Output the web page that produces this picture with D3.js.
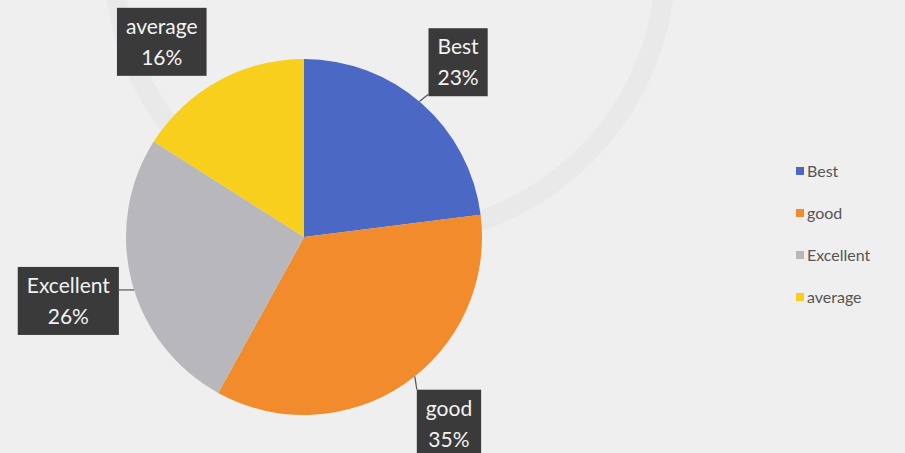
<!DOCTYPE html>
<html><head><meta charset="utf-8">
<script src="https://cdn.jsdelivr.net/npm/d3@7"></script>
<style>
html,body{margin:0;padding:0;background:#efefef;}
svg{display:block;}
</style></head>
<body>
<svg id="chart" width="905" height="453"></svg>
<script>
const categories = ["Best", "good", "Excellent", "average"];
const values = [23, 35, 26, 16];
const colors = ["#4b68c4", "#f28b2b", "#b8b8bc", "#f7cf1c"];

const W = 905, H = 453;
const cx = 304, cy = 237, R = 178;
const svg = d3.select("#chart");

svg.append("rect").attr("width", W).attr("height", H).attr("fill", "#efefef");

// faint watermark ring
svg.append("circle").attr("cx", 390).attr("cy", -40).attr("r", 276)
  .attr("fill", "none").attr("stroke", "#e9e9e9").attr("stroke-width", 20);

const pie = d3.pie().sort(null).value(d => d)(values);
const arc = d3.arc().innerRadius(0).outerRadius(R);
const g = svg.append("g").attr("transform", `translate(${cx},${cy})`);

g.selectAll("path.slice").data(pie).join("path")
  .attr("class", "slice")
  .attr("d", arc)
  .attr("fill", (d, i) => colors[i]);

// labels
const labelArc = d3.arc().innerRadius(233).outerRadius(233);
const nudges = [[0, 0], [14, -6], [-10, 6], [-30, 9]];
const lg = g.append("g").attr("font-family", "Lato, sans-serif").attr("font-size", 21);

pie.forEach((d, i) => {
  const [lx0, ly0] = labelArc.centroid(d);
  const lx = lx0 + nudges[i][0], ly = ly0 + nudges[i][1];
  const grp = lg.append("g").attr("transform", `translate(${lx},${ly})`);
  const t1 = grp.append("text").attr("text-anchor", "middle").attr("y", -8).attr("fill", "#f2f2f2").text(categories[i]);
  const t2 = grp.append("text").attr("text-anchor", "middle").attr("y", 23).attr("fill", "#f2f2f2").text(Math.round(d.value / d3.sum(values) * 100) + "%");
  const w = Math.max(t1.node().getComputedTextLength(), t2.node().getComputedTextLength()) + 18;
  const h = 68;
  grp.insert("rect", "text").attr("x", -w / 2).attr("y", -h / 2).attr("width", w).attr("height", h)
    .attr("fill", "#3a3a3a");
  d.box = {x0: lx - w / 2, x1: lx + w / 2, y0: ly - h / 2, y1: ly + h / 2};
});

// leader lines
const leaders = g.append("g").attr("stroke", "#555").attr("stroke-width", 1.2);
{
  const b = pie[0].box;
  const a = Math.atan2(b.y1 - 2, b.x0 - 3);
  leaders.append("line").attr("x1", b.x0).attr("y1", b.y1 - 2)
    .attr("x2", R * Math.cos(a)).attr("y2", R * Math.sin(a));
}
{
  const b = pie[2].box;
  const yy = b.y0 + 23;
  const xx = -Math.sqrt(R * R - yy * yy);
  leaders.append("line").attr("x1", b.x1).attr("y1", yy).attr("x2", xx).attr("y2", yy);
}
{
  const b = pie[1].box;
  const xx = b.x0 - 2;
  const yy = Math.sqrt(R * R - xx * xx);
  leaders.append("line").attr("x1", b.x0).attr("y1", b.y0).attr("x2", xx).attr("y2", yy);
}

// legend
const legend = svg.append("g").attr("transform", "translate(796,172)")
  .attr("font-family", "Lato, sans-serif").attr("font-size", 16).attr("fill", "#555");
categories.forEach((c, i) => {
  const row = legend.append("g").attr("transform", `translate(0,${i * 42})`);
  row.append("rect").attr("x", 0).attr("y", -5).attr("width", 8).attr("height", 8).attr("fill", colors[i]);
  row.append("text").attr("x", 11).attr("y", 5).text(c);
});
</script>
</body></html>
